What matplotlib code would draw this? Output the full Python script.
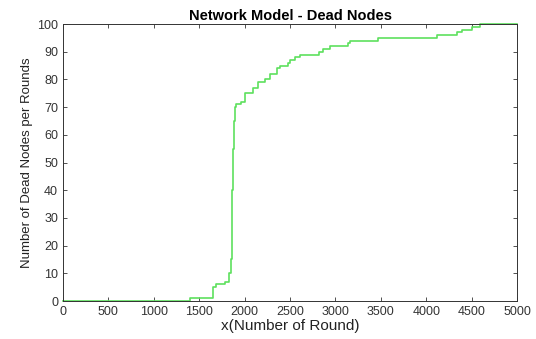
import matplotlib
matplotlib.use("Agg")
import matplotlib.pyplot as plt

# rounds at which the dead-node count changes (step values)
rounds = [0, 1400, 1650, 1690, 1780, 1830, 1850, 1860, 1866, 1872, 1880, 1895, 1910,
          1965, 2000, 2095, 2150, 2225, 2280, 2360, 2390, 2478, 2500, 2555, 2610,
          2815, 2865, 2940, 3140, 3165, 3470, 4115, 4335, 4390, 4500, 4590, 5000]
dead = [0, 1, 5, 6, 7, 10, 15, 25, 40, 55, 65, 70, 71,
        72, 75, 77, 79, 80, 82, 84, 85, 86, 87, 88, 89,
        90, 91, 92, 93, 94, 95, 96, 97, 98, 99, 100, 100]

plt.rcParams['font.family'] = ['Liberation Sans', 'DejaVu Sans']

fig = plt.figure(figsize=(5.36, 3.39), dpi=100)
ax = fig.add_axes([0.1175, 0.112, 0.8471, 0.817])

ax.plot(rounds, dead, drawstyle='steps-post', color='#5ee05e', lw=1.2, clip_on=False)

ax.set_xlim(0, 5000)
ax.set_ylim(0, 100)
ax.set_xticks(range(0, 5001, 500))
ax.set_yticks(range(0, 101, 10))
ax.tick_params(direction='in', top=True, right=True, labelsize=9, length=3, width=0.6,
               colors='#333333', labelcolor='#333333')
for s in ax.spines.values():
    s.set_linewidth(0.7)
    s.set_color('#333333')

ax.set_title("Network Model - Dead Nodes", fontsize=10.5, fontweight='bold', pad=3)
ax.set_xlabel("x(Number of Round)", fontsize=11, labelpad=1, color='#222222')
ax.set_ylabel("Number of Dead Nodes per Rounds", fontsize=9.5, labelpad=3, color='#222222')

fig.savefig("out.png", dpi=100)
